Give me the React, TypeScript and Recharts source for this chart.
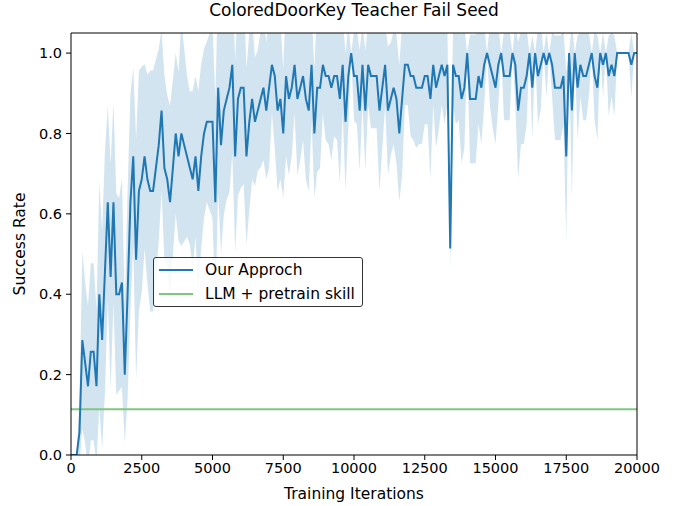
import {
  ComposedChart,
  Line,
  Area,
  XAxis,
  YAxis,
  ReferenceLine,
  Label,
} from "recharts";

// evaluation every 100 training iterations, 0 .. 20000
const EVAL_STEP = 100;

// success rate of our approach (mean over seeds)
const MEAN = [
  0, 0, 0, 0.057, 0.286, 0.229, 0.171, 0.257, 0.257, 0.171,
  0.4, 0.286, 0.457, 0.629, 0.443, 0.629, 0.4, 0.4, 0.429, 0.2,
  0.4, 0.629, 0.743, 0.486, 0.657, 0.686, 0.743, 0.686, 0.657, 0.657,
  0.714, 0.771, 0.857, 0.714, 0.686, 0.629, 0.714, 0.8, 0.743, 0.8,
  0.771, 0.743, 0.714, 0.686, 0.743, 0.657, 0.743, 0.8, 0.829, 0.829,
  0.829, 0.629, 0.914, 0.771, 0.857, 0.886, 0.914, 0.971, 0.743, 0.886,
  0.914, 0.914, 0.743, 0.829, 0.886, 0.829, 0.857, 0.886, 0.914, 0.857,
  0.914, 0.971, 0.943, 0.857, 0.886, 0.8, 0.943, 0.886, 0.914, 0.971,
  0.886, 0.914, 0.943, 0.886, 0.857, 0.971, 0.8, 0.914, 0.914, 0.971,
  0.943, 0.943, 0.914, 0.943, 0.943, 0.886, 0.971, 0.829, 0.943, 1.0,
  0.943, 0.943, 0.857, 0.971, 0.857, 0.971, 0.943, 0.943, 0.943, 0.857,
  0.914, 0.971, 0.857, 0.886, 0.914, 0.886, 0.8, 0.886, 0.971, 0.971,
  0.943, 0.943, 0.914, 0.914, 0.914, 0.943, 0.943, 0.886, 0.971, 0.914,
  0.943, 0.971, 0.943, 0.971, 0.514, 0.971, 0.943, 0.943, 0.886, 0.914,
  1.0, 0.886, 0.886, 0.886, 0.943, 0.914, 0.971, 1.0, 0.971, 0.943,
  0.914, 0.971, 1.0, 0.943, 0.943, 0.943, 1.0, 0.971, 0.857, 0.914,
  0.914, 0.943, 1.0, 0.914, 1.0, 0.943, 0.971, 1.0, 0.971, 1.0,
  0.971, 0.914, 0.914, 0.914, 0.943, 0.743, 1.0, 0.857, 1.0, 0.914,
  0.971, 0.943, 0.943, 0.971, 1.0, 0.943, 0.914, 1.0, 0.971, 1.0,
  0.943, 0.971, 0.943, 1.0, 1.0, 1.0, 1.0, 1.0, 0.971, 1.0,
  1.0,
];

// standard deviation over seeds (shaded band)
const STD = [
  0, 0, 0, 0.08, 0.22, 0.2, 0.2, 0.22, 0.22, 0.19,
  0.28, 0.27, 0.3, 0.24, 0.28, 0.25, 0.25, 0.24, 0.26, 0.17,
  0.26, 0.27, 0.22, 0.3, 0.3, 0.28, 0.23, 0.26, 0.3, 0.3,
  0.27, 0.24, 0.2, 0.23, 0.21, 0.24, 0.22, 0.2, 0.21, 0.28,
  0.24, 0.2, 0.19, 0.22, 0.2, 0.25, 0.23, 0.21, 0.2, 0.22,
  0.24, 0.26, 0.26, 0.27, 0.26, 0.25, 0.26, 0.22, 0.24, 0.24,
  0.25, 0.24, 0.22, 0.22, 0.2, 0.16, 0.15, 0.17, 0.18, 0.17,
  0.2, 0.12, 0.18, 0.2, 0.2, 0.16, 0.2, 0.19, 0.17, 0.12,
  0.19, 0.18, 0.16, 0.2, 0.2, 0.14, 0.16, 0.21, 0.2, 0.12,
  0.16, 0.17, 0.18, 0.15, 0.16, 0.21, 0.12, 0.17, 0.13, 0,
  0.11, 0.12, 0.15, 0.1, 0.15, 0.1, 0.13, 0.13, 0.13, 0.2,
  0.15, 0.1, 0.16, 0.14, 0.14, 0.16, 0.17, 0.19, 0.1, 0.1,
  0.15, 0.16, 0.15, 0.14, 0.14, 0.12, 0.12, 0.2, 0.1, 0.15,
  0.13, 0.1, 0.12, 0.1, 0.05, 0.1, 0.12, 0.11, 0.16, 0.15,
  0, 0.16, 0.16, 0.16, 0.12, 0.14, 0.1, 0, 0.1, 0.13,
  0.14, 0.1, 0, 0.11, 0.11, 0.11, 0, 0.1, 0.17, 0.14,
  0.14, 0.12, 0, 0.13, 0, 0.12, 0.11, 0, 0.08, 0,
  0.08, 0.13, 0.13, 0.13, 0.12, 0.21, 0, 0.22, 0, 0.13,
  0.08, 0.11, 0.11, 0.08, 0, 0.11, 0.13, 0, 0.08, 0,
  0.1, 0.08, 0.1, 0, 0, 0, 0, 0, 0.08, 0,
  0,
];

// LLM + pretrain skill baseline (flat)
const LLM_BASELINE = 0.114;

const X_TICKS = [0, 2500, 5000, 7500, 10000, 12500, 15000, 17500, 20000];
const Y_TICKS = [0, 0.2, 0.4, 0.6, 0.8, 1.0];

const data = MEAN.map((m, i) => ({
  iter: i * EVAL_STEP,
  mean: m,
  band: [m - STD[i], m + STD[i]],
  llm: LLM_BASELINE,
}));

const FONT = "DejaVu Sans, sans-serif";
const BLUE = "#1f77b4";
const GREEN = "#80c680";

const tickStyle = { fill: "#000", fontSize: 14.5, fontFamily: FONT };

export default function App() {
  return (
    <div style={{ position: "absolute", left: 0, top: 0, width: 683, height: 506, background: "#fff" }}>
      <div
        style={{
          position: "absolute",
          left: 71,
          width: 566,
          top: 0,
          textAlign: "center",
          fontFamily: FONT,
          fontSize: 17,
          color: "#000",
        }}
      >
        ColoredDoorKey Teacher Fail Seed
      </div>
      <ComposedChart
        width={683}
        height={506}
        data={data}
        margin={{ top: 33, right: 46, left: 0, bottom: 0 }}
      >
        <XAxis
          dataKey="iter"
          type="number"
          domain={[0, 20000]}
          ticks={X_TICKS}
          tick={tickStyle}
          tickSize={5}
          tickMargin={3}
          height={51}
          stroke="#000"
          interval={0}
        >
          <Label
            value="Training Iterations"
            position="insideBottom"
            offset={7}
            style={{ fill: "#000", fontSize: 15.5, fontFamily: FONT }}
          />
        </XAxis>
        <YAxis
          type="number"
          domain={[0, 1.05]}
          ticks={Y_TICKS}
          allowDataOverflow
          tickFormatter={(v: number) => v.toFixed(1)}
          tick={tickStyle}
          tickSize={5}
          tickMargin={4}
          width={71}
          stroke="#000"
          interval={0}
        >
          <Label
            content={() => (
              <text
                x={20}
                y={244}
                transform="rotate(-90 20 244)"
                textAnchor="middle"
                dominantBaseline="central"
                fontSize={15.5}
                fontFamily={FONT}
                fill="#000"
              >
                Success Rate
              </text>
            )}
          />
        </YAxis>
        <Area
          dataKey="band"
          type="linear"
          stroke="none"
          fill={BLUE}
          fillOpacity={0.2}
          isAnimationActive={false}
          activeDot={false}
        />
        <Line
          dataKey="llm"
          type="linear"
          stroke={GREEN}
          strokeWidth={2}
          dot={false}
          activeDot={false}
          isAnimationActive={false}
        />
        <Line
          dataKey="mean"
          type="linear"
          stroke={BLUE}
          strokeWidth={2}
          dot={false}
          activeDot={false}
          isAnimationActive={false}
        />
        <ReferenceLine y={1.05} stroke="#000" strokeWidth={1} />
        <ReferenceLine x={20000} stroke="#000" strokeWidth={1} />
      </ComposedChart>
      <div
        style={{
          position: "absolute",
          left: 153,
          top: 257,
          width: 208,
          height: 48,
          border: "1px solid #333",
          borderRadius: 3,
          background: "rgba(255,255,255,0.8)",
          fontFamily: FONT,
          fontSize: 15.5,
          color: "#000",
        }}
      >
        {[
          { name: "Our Approch", color: BLUE },
          { name: "LLM + pretrain skill", color: GREEN },
        ].map((e, i) => (
          <div
            key={e.name}
            style={{ position: "absolute", left: 5, top: 2 + i * 24, height: 20, display: "flex", alignItems: "center" }}
          >
            <div style={{ width: 34, height: 2, background: e.color, marginRight: 12 }} />
            <span style={{ whiteSpace: "nowrap" }}>{e.name}</span>
          </div>
        ))}
      </div>
    </div>
  );
}
